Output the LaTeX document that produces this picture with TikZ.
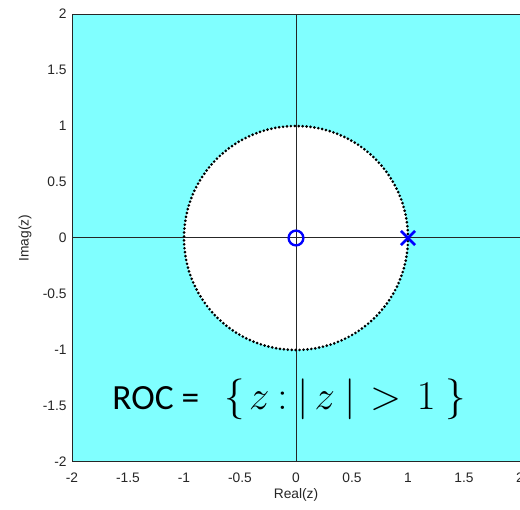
\documentclass[tikz,border=0pt]{standalone}
\usepackage{fontspec}
\setmainfont{Liberation Sans}
\newfontfamily\calfont{Carlito}
\definecolor{roccyan}{RGB}{128,255,255}
\definecolor{axisgray}{RGB}{38,38,38}
\definecolor{pzblue}{RGB}{0,0,255}

\begin{document}
\begin{tikzpicture}[x=2cm,y=2cm,
    ticklabel/.style={font=\fontsize{7}{8}\selectfont, text=axisgray, inner sep=0pt},
    unitcircle/.style={line width=1.5pt, dash pattern=on 0pt off 2pt, line cap=round},
    pzmark/.style={pzblue, line width=1.2pt}]
    \useasboundingbox (-2.643,-2.42) rectangle (2,2.125);
    % ROC shading
    \fill[roccyan] (-2,-2) rectangle (2,2);
    \fill[white] (0,0) circle (1);
    % Axes through origin
    \coordinate (west) at (-2,0);
    \coordinate (east) at (2,0);
    \coordinate (south) at (0,-2);
    \coordinate (north) at (0,2);
    \draw[axisgray, line width=0.5pt] (west) -- (east);
    \draw[axisgray, line width=0.5pt] (south) -- (north);
    % Box
    \draw[axisgray, line width=0.5pt] (-2,-2) rectangle (2,2);
    % Unit circle
    \draw[unitcircle] (0,0) circle (1);
    % Zero and pole
    \node[pzmark, draw, circle, minimum size=7.5pt, inner sep=0pt] (zero) at (0,0) {};
    \coordinate (pole) at (1,0);
    \draw[pzmark, line width=1.4pt] ([shift={(-3.6pt,-3.6pt)}]pole) -- ([shift={(3.6pt,3.6pt)}]pole);
    \draw[pzmark, line width=1.4pt] ([shift={(-3.6pt,3.6pt)}]pole) -- ([shift={(3.6pt,-3.6pt)}]pole);
    % Tick labels
    \foreach \v in {-2,-1.5,-1,-0.5,0,0.5,1,1.5,2}
        \node[ticklabel, anchor=east] (ylab\v) at (-2.045,\v) {\v};
    \foreach \v in {-2,-1.5,-1,-0.5,0,0.5,1,1.5,2}
        \node[ticklabel] (xlab\v) at (\v,-2.143) {\v};
    % Axis labels
    \node[ticklabel, rotate=90] (ylabel) at (-2.42,0) {Imag(z)};
    \node[ticklabel] (xlabel) at (0,-2.295) {Real(z)};
    % Region of convergence
    \node[anchor=base west, inner sep=0pt] (roc) at (-1.643,-1.527)
        {{\calfont\fontsize{18}{21}\selectfont ROC =}\hspace{13pt}\fontsize{20}{24}\selectfont
         $\{\hspace{2pt}z\hspace{4pt}{:}\hspace{5pt}|\hspace{3pt}z\hspace{5pt}|\hspace{7pt}{>}\hspace{8pt}1\hspace{5pt}\}$};
\end{tikzpicture}
\end{document}
